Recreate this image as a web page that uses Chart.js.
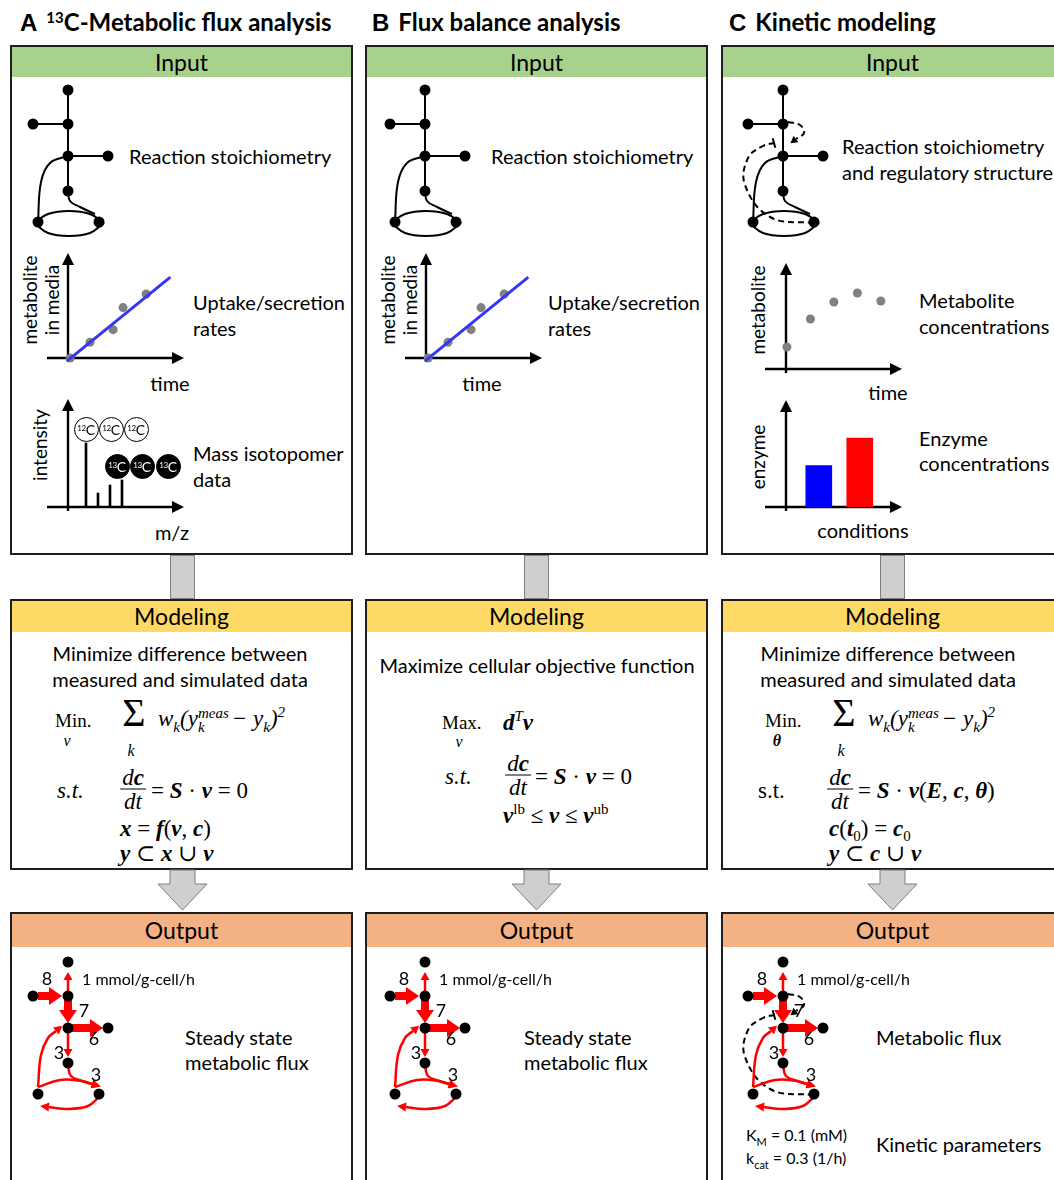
<!DOCTYPE html>
<html>
<head>
<meta charset="utf-8">
<title>Metabolic flux analysis workflows</title>
<script src="https://cdn.jsdelivr.net/npm/chart.js@4.4.1/dist/chart.umd.min.js"></script>
<style>
  html, body { margin: 0; padding: 0; background: #fff; }
  body { position: relative; width: 1054px; height: 1180px; overflow: hidden; font-family: Lato, "Open Sans", sans-serif; color: #000; }
  .box { position: absolute; width: 343px; border: 2px solid #1e1e1e; box-sizing: border-box; background: #fff; }
  .hd { text-align: center; font-size: 23px; }
  .in .hd { background: #a9d18e; height: 30px; line-height: 30px; }
  .mo .hd { background: #ffd966; height: 31px; line-height: 31px; }
  .out .hd { background: #f4b183; height: 33px; line-height: 33px; }
  .conn { position: absolute; width: 25px; background: #d0cece; border: 1px solid #7f7f7f; box-sizing: border-box; }
  .t { position: absolute; white-space: nowrap; line-height: 1; transform: translateY(-50%); font-size: 20px; }
  .tc { transform: translate(-50%, -50%); }
  .rot { transform: translate(-50%, -50%) rotate(-90deg); text-align: center; line-height: 22px; font-size: 19px; }
  .title { font-size: 24px; font-weight: bold; }
  .title .L { font-family: "Liberation Sans", Arial, sans-serif; margin-right: 9px; }
  .title sup { font-size: 15px; vertical-align: 8px; }
  canvas { position: absolute; }
  .eq { font-family: "Liberation Serif", "DejaVu Serif", serif; font-size: 23px; }
  .op { font-size: 19px; }
  .it { font-style: italic; }
  .eq b { font-style: italic; font-weight: bold; }
  .eq sub, .eq sup { font-size: 15px; line-height: 0; }
  .sm { font-size: 16px; }
  .sig { font-size: 40px; }
  .stk { display: inline-flex; flex-direction: column; font-size: 15px; line-height: 14px; vertical-align: 8px; margin-right: 3px; }
  .frac { display: inline-flex; flex-direction: column; align-items: center; }
  .frac span { padding: 0 2px; line-height: 23px; }
  .frac span:first-child { border-bottom: 1.5px solid #000; }
  .iso { position: absolute; width: 25px; height: 25px; margin: -12.5px 0 0 -12.5px; border-radius: 50%; border: 1px solid #000; box-sizing: border-box; background: #fff; font-size: 14px; line-height: 23px; text-align: center; letter-spacing: -0.4px; }
  .iso sup { font-size: 8px; vertical-align: 4px; line-height: 0; }
  .iso.c13 { background: #000; color: #fff; }
  .km { font-size: 16px; }
  .km sub { font-size: 11px; }
</style>
</head>
<body>

<!-- titles -->
<div class="t title" style="left:20px;top:22px"><span class="L">A</span><sup>13</sup>C-Metabolic flux analysis</div>
<div class="t title" style="left:372px;top:22px"><span class="L">B</span>Flux balance analysis</div>
<div class="t title" style="left:729px;top:22px"><span class="L">C</span>Kinetic modeling</div>

<!-- boxes -->
<div class="box in" style="left:10px;top:45px;height:510px"><div class="hd">Input</div></div>
<div class="box in" style="left:365px;top:45px;height:510px"><div class="hd">Input</div></div>
<div class="box in" style="left:721px;top:45px;height:510px"><div class="hd">Input</div></div>

<div class="conn" style="left:170px;top:555px;height:44px"></div>
<div class="conn" style="left:524px;top:555px;height:44px"></div>
<div class="conn" style="left:880px;top:555px;height:44px"></div>

<div class="box mo" style="left:10px;top:599px;height:271px"><div class="hd">Modeling</div></div>
<div class="box mo" style="left:365px;top:599px;height:271px"><div class="hd">Modeling</div></div>
<div class="box mo" style="left:721px;top:599px;height:271px"><div class="hd">Modeling</div></div>

<svg width="1054" height="1180" style="position:absolute;left:0;top:0">
  <g fill="#d0cece" stroke="#7f7f7f" stroke-width="1">
    <polygon points="170,870 195,870 195,884 207,884 182.5,910 158,884 170,884"/>
    <polygon points="524,870 549,870 549,884 561,884 536.5,910 512,884 524,884"/>
    <polygon points="880,870 905,870 905,884 917,884 892.5,910 868,884 880,884"/>
  </g>
</svg>

<div class="box out" style="left:10px;top:912px;height:270px"><div class="hd">Output</div></div>
<div class="box out" style="left:365px;top:912px;height:270px"><div class="hd">Output</div></div>
<div class="box out" style="left:721px;top:912px;height:270px"><div class="hd">Output</div></div>

<!-- A input text -->
<div class="t" style="left:129px;top:156px">Reaction stoichiometry</div>
<div class="t rot" style="left:41px;top:300px">metabolite<br>in media</div>
<div class="t" style="left:193px;top:302px">Uptake/secretion</div>
<div class="t" style="left:193px;top:328px">rates</div>
<div class="t tc" style="left:170px;top:383px">time</div>
<div class="t rot" style="left:40px;top:445px">intensity</div>
<div class="t" style="left:193px;top:453px">Mass isotopomer</div>
<div class="t" style="left:193px;top:479px">data</div>
<div class="t tc" style="left:172px;top:532px">m/z</div>

<!-- B input text -->
<div class="t" style="left:491px;top:156px">Reaction stoichiometry</div>
<div class="t rot" style="left:399px;top:300px">metabolite<br>in media</div>
<div class="t" style="left:548px;top:302px">Uptake/secretion</div>
<div class="t" style="left:548px;top:328px">rates</div>
<div class="t tc" style="left:482px;top:383px">time</div>

<!-- C input text -->
<div class="t" style="left:842px;top:146px">Reaction stoichiometry</div>
<div class="t" style="left:842px;top:172px">and regulatory structure</div>
<div class="t rot" style="left:758px;top:310px">metabolite</div>
<div class="t" style="left:919px;top:300px">Metabolite</div>
<div class="t" style="left:919px;top:326px">concentrations</div>
<div class="t tc" style="left:888px;top:392px">time</div>
<div class="t rot" style="left:758px;top:457px">enzyme</div>
<div class="t" style="left:919px;top:438px">Enzyme</div>
<div class="t" style="left:919px;top:463px">concentrations</div>
<div class="t tc" style="left:863px;top:530px">conditions</div>

<!-- modeling text A -->
<div class="t tc" style="left:180px;top:653px">Minimize difference between</div>
<div class="t tc" style="left:180px;top:679px">measured and simulated data</div>
<div class="t eq op" style="left:55px;top:720px">Min.</div>
<div class="t tc eq it sm" style="left:67px;top:741px">v</div>
<div class="t tc eq sig" style="left:134px;top:713px">Σ</div>
<div class="t tc eq it sm" style="left:131px;top:751px">k</div>
<div class="t eq it" style="left:158px;top:720px">w<sub>k</sub>(y<span class="stk"><span>meas</span><span>k</span></span>− y<sub>k</sub>)<sup>2</sup></div>
<div class="t eq it" style="left:57px;top:790px">s.t.</div>
<div class="t tc eq it" style="left:133px;top:789px"><span class="frac"><span>d<b>c</b></span><span>dt</span></span></div>
<div class="t eq" style="left:151px;top:790px">= <b>S</b> · <b>v</b> = 0</div>
<div class="t eq" style="left:120px;top:828px"><b>x</b> = <b>f</b>(<b>v</b>, <b>c</b>)</div>
<div class="t eq" style="left:120px;top:853px"><b>y</b> ⊂ <b>x</b> ∪ <b>v</b></div>

<!-- modeling text B -->
<div class="t tc" style="left:537px;top:665px">Maximize cellular objective function</div>
<div class="t eq op" style="left:442px;top:722px">Max.</div>
<div class="t tc eq it sm" style="left:459px;top:742px">v</div>
<div class="t eq" style="left:503px;top:722px"><b>d</b><sup class="it">T</sup><b>v</b></div>
<div class="t eq it" style="left:445px;top:776px">s.t.</div>
<div class="t tc eq it" style="left:518px;top:775px"><span class="frac"><span>d<b>c</b></span><span>dt</span></span></div>
<div class="t eq" style="left:535px;top:776px">= <b>S</b> · <b>v</b> = 0</div>
<div class="t eq" style="left:503px;top:815px"><b>v</b><sup>lb</sup> ≤ <b>v</b> ≤ <b>v</b><sup>ub</sup></div>

<!-- modeling text C -->
<div class="t tc" style="left:888px;top:653px">Minimize difference between</div>
<div class="t tc" style="left:888px;top:679px">measured and simulated data</div>
<div class="t eq op" style="left:765px;top:720px">Min.</div>
<div class="t tc eq sm" style="left:777px;top:741px"><b>θ</b></div>
<div class="t tc eq sig" style="left:844px;top:713px">Σ</div>
<div class="t tc eq it sm" style="left:841px;top:751px">k</div>
<div class="t eq it" style="left:868px;top:720px">w<sub>k</sub>(y<span class="stk"><span>meas</span><span>k</span></span>− y<sub>k</sub>)<sup>2</sup></div>
<div class="t eq" style="left:758px;top:790px">s.t.</div>
<div class="t tc eq it" style="left:840px;top:789px"><span class="frac"><span>d<b>c</b></span><span>dt</span></span></div>
<div class="t eq" style="left:858px;top:790px">= <b>S</b> · <b>v</b>(<b>E</b>, <b>c</b>, <b>θ</b>)</div>
<div class="t eq" style="left:829px;top:828px"><b>c</b>(<b>t</b><sub>0</sub>) = <b>c</b><sub>0</sub></div>
<div class="t eq" style="left:829px;top:853px"><b>y</b> ⊂ <b>c</b> ∪ <b>v</b></div>

<!-- output text -->
<div class="t" style="left:185px;top:1037px">Steady state</div>
<div class="t" style="left:185px;top:1062px">metabolic flux</div>
<div class="t" style="left:524px;top:1037px">Steady state</div>
<div class="t" style="left:524px;top:1062px">metabolic flux</div>
<div class="t" style="left:876px;top:1037px">Metabolic flux</div>
<div class="t" style="left:876px;top:1144px">Kinetic parameters</div>
<div class="t km" style="left:746px;top:1137px">K<sub>M</sub> = 0.1 (mM)</div>
<div class="t km" style="left:746px;top:1160px">k<sub>cat</sub> = 0.3 (1/h)</div>

<!-- charts -->
<canvas id="netAin" width="200" height="164" style="left:18px;top:76px"></canvas>
<canvas id="netBin" width="200" height="164" style="left:375px;top:76px"></canvas>
<canvas id="netCin" width="200" height="164" style="left:733px;top:76px"></canvas>
<canvas id="netAout" width="200" height="164" style="left:18px;top:948px"></canvas>
<canvas id="netBout" width="200" height="164" style="left:375px;top:948px"></canvas>
<canvas id="netCout" width="200" height="164" style="left:733px;top:948px"></canvas>
<canvas id="uptakeA" width="180" height="130" style="left:20px;top:240px"></canvas>
<canvas id="uptakeB" width="180" height="130" style="left:378px;top:240px"></canvas>
<canvas id="isoA" width="180" height="125" style="left:20px;top:390px"></canvas>
<canvas id="metC" width="170" height="125" style="left:740px;top:255px"></canvas>
<canvas id="enzC" width="170" height="125" style="left:740px;top:392px"></canvas>

<!-- isotopomer labels -->
<div class="iso" style="left:86px;top:429px"><sup>12</sup>C</div>
<div class="iso" style="left:111px;top:429px"><sup>12</sup>C</div>
<div class="iso" style="left:136px;top:429px"><sup>12</sup>C</div>
<div class="iso c13" style="left:117px;top:466px"><sup>13</sup>C</div>
<div class="iso c13" style="left:142px;top:466px"><sup>13</sup>C</div>
<div class="iso c13" style="left:168px;top:466px"><sup>13</sup>C</div>

<script>
// ---- data ----
// network nodes: top, left, mid, center, right, lower, bottom-left, bottom-right
const nodeX = [0, -35, 0, 0, 40, 0, -30, 31];
const nodeY = [0, 34, 34, 66, 66, 101, 132, 132];
const reactionEdges = [[0, 2], [1, 2], [2, 3], [3, 4], [3, 5]];
const curveCenterToBL = [[0, 66], [-18, 73], [-27, 92], [-30, 132]];
const curveLowerToBR = [[0, 101], [2, 111], [12, 117], [27, 124]];
const cycleTop = [[-34, 133], [-20, 124], [1, 121], [22, 124], [36, 133]];
const cycleBottom = [[36, 133], [22, 143], [1, 146], [-20, 143], [-34, 133]];
// regulation (kinetic model)
const activationArc = [[5, 32], [17, 35], [21, 43], [13, 49]];
const inhibitionArc = [[31, 133], [-13, 127], [-38, 95], [-35, 68], [-20, 56], [-9, 53]];

// output fluxes (mmol/g-cell/h): up, in, down, out, to lower, to cycle
const fluxValues = [1, 8, 7, 6, 3, 3];
const fluxUp = [[0, 30], [0, 18]];
const fluxIn = [[-30, 34], [-19, 34]];
const fluxDown = [[0, 38], [0, 48]];
const fluxOut = [[4, 66], [22, 66]];
const fluxLower = [[0, 70], [0, 87]];
const fluxLowerToBR = [[0, 104], [3, 114], [14, 119], [24, 122]];
const fluxCycleTop = [[-30, 125], [-8, 118], [14, 119], [24, 122]];
const fluxBLToCenter = [[-30, 125], [-27, 93], [-20, 76], [-12, 69]];
const fluxCycleBottom = [[31, 135], [20, 144], [-1, 147], [-19, 145]];

// uptake / secretion
const uptakeTime = [0.1, 1.0, 2.05, 2.5, 3.55];
const uptakeAmount = [0.0, 0.75, 1.35, 2.4, 3.05];
const fitTime = [-0.05, 4.65];
const fitAmount = [-0.15, 3.85];

// mass isotopomer distribution (M+0 .. M+3)
const isotopomerMz = [0, 1, 2, 3];
const isotopomerIntensity = [64, 14, 22, 27];

// kinetic model inputs
const metaboliteTime = [0, 1, 2, 3, 4];
const metaboliteConc = [2.2, 5.0, 6.7, 7.6, 6.8];
const enzymeCondition = [0.8, 1.8];
const enzymeLevel = [3, 5];
const enzymeColors = ['#0000ff', '#ff0000'];

// ---- helpers ----
function head(ctx, x, y, ang, len, w) {
  ctx.save();
  ctx.translate(x, y);
  ctx.rotate(ang);
  ctx.beginPath();
  ctx.moveTo(0, 0);
  ctx.lineTo(-len, -w / 2);
  ctx.lineTo(-len, w / 2);
  ctx.closePath();
  ctx.fill();
  ctx.restore();
}

// axes with arrow heads at the chart area edges
const arrowAxes = {
  id: 'arrowAxes',
  beforeDatasetsDraw(chart, args, o) {
    const { ctx, chartArea: a } = chart;
    ctx.save();
    ctx.lineWidth = 2.4;
    ctx.strokeStyle = '#000';
    ctx.fillStyle = '#000';
    ctx.beginPath();
    ctx.moveTo(a.left - o.extX, a.bottom);
    ctx.lineTo(a.right - 8, a.bottom);
    ctx.moveTo(a.left, a.bottom + o.extY);
    ctx.lineTo(a.left, a.top + 8);
    ctx.stroke();
    head(ctx, a.right, a.bottom, 0, 12, 12);
    head(ctx, a.left, a.top, -Math.PI / 2, 12, 12);
    ctx.restore();
  }
};

// arrow heads / inhibition bars at the end of an edge
const edgeEnds = {
  id: 'edgeEnds',
  afterDatasetDraw(chart, args) {
    const ds = chart.data.datasets[args.index];
    if (!ds.head && !ds.tee) return;
    const pts = args.meta.data, n = pts.length;
    const p = pts[n - 1], q = pts[n - 2];
    const ang = Math.atan2(p.y - q.y, p.x - q.x);
    const ctx = chart.ctx;
    ctx.save();
    ctx.fillStyle = ds.borderColor;
    ctx.strokeStyle = ds.borderColor;
    if (ds.head) {
      const [len, w] = ds.head;
      head(ctx, p.x + Math.cos(ang) * len, p.y + Math.sin(ang) * len, ang, len, w);
    }
    if (ds.tee) {
      ctx.lineWidth = 2;
      ctx.translate(p.x, p.y);
      ctx.rotate(ang);
      ctx.beginPath();
      ctx.moveTo(0, -ds.tee / 2);
      ctx.lineTo(0, ds.tee / 2);
      ctx.stroke();
    }
    ctx.restore();
  }
};

const netLabels = {
  id: 'netLabels',
  afterDraw(chart, args, o) {
    if (!o.items || !o.items.length) return;
    const { ctx, scales: { x, y } } = chart;
    ctx.save();
    ctx.fillStyle = '#000';
    ctx.textBaseline = 'middle';
    o.items.forEach(it => {
      ctx.font = it.font || o.font;
      ctx.textAlign = it.align || 'center';
      ctx.fillText(it.text, x.getPixelForValue(it.x), y.getPixelForValue(it.y));
    });
    ctx.restore();
  }
};

function edge(pts, color, width, extra) {
  return Object.assign({
    data: pts.map(p => ({ x: p[0], y: p[1] })),
    showLine: true, pointRadius: 0, borderColor: color, borderWidth: width,
    tension: pts.length > 2 ? 0.4 : 0, order: 1, clip: false
  }, extra || {});
}

function network(id, edges, labels) {
  const nodes = {
    data: nodeX.map((x, i) => ({ x, y: nodeY[i] })),
    pointRadius: 5.5, pointBackgroundColor: '#000', pointBorderWidth: 0, showLine: false, order: 0, clip: false
  };
  return new Chart(document.getElementById(id), {
    type: 'scatter',
    data: { datasets: edges.concat([nodes]) },
    options: {
      responsive: false, animation: false, events: [],
      layout: { padding: 0, autoPadding: false },
      plugins: { legend: { display: false }, tooltip: { enabled: false },
        netLabels: { items: labels || [], font: '18px Lato' } },
      scales: {
        x: { type: 'linear', min: -50, max: 150, display: false },
        y: { type: 'linear', min: -14, max: 150, reverse: true, display: false }
      }
    },
    plugins: [edgeEnds, netLabels]
  });
}

function inputEdges() {
  return reactionEdges.map(([a, b]) => edge([[nodeX[a], nodeY[a]], [nodeX[b], nodeY[b]]], '#000', 2))
    .concat([curveCenterToBL, curveLowerToBR, cycleTop, cycleBottom].map(c => edge(c, '#000', 2)));
}

function regulationEdges() {
  return [
    edge(activationArc, '#000', 2, { borderDash: [6, 4], head: [7, 8] }),
    edge(inhibitionArc, '#000', 2, { borderDash: [6, 4], tee: 10 })
  ];
}

function fluxEdges() {
  const red = '#ff0000';
  const w = v => (v >= 5 ? 8 : 2.5);
  const h = v => (v >= 5 ? [13, 18] : [8, 9]);
  return [
    edge(fluxUp, red, w(fluxValues[0]), { head: h(fluxValues[0]) }),
    edge(fluxIn, red, w(fluxValues[1]), { head: h(fluxValues[1]) }),
    edge(fluxDown, red, w(fluxValues[2]), { head: h(fluxValues[2]) }),
    edge(fluxOut, red, w(fluxValues[3]), { head: h(fluxValues[3]) }),
    edge(fluxLower, red, w(fluxValues[4]), { head: h(fluxValues[4]) }),
    edge(fluxLowerToBR, red, w(fluxValues[5]), { head: [9, 9] }),
    edge(fluxCycleTop, red, 2.5, { head: [9, 9] }),
    edge(fluxBLToCenter, red, 2.5, { head: [8, 9] }),
    edge(fluxCycleBottom, red, 2.5, { head: [9, 9] })
  ];
}

const fluxLabels = [
  { text: String(fluxValues[1]), x: -21, y: 17 },
  { text: fluxValues[0] + ' mmol/g-cell/h', x: 14, y: 18, align: 'left', font: '16px Lato' },
  { text: String(fluxValues[2]), x: 16, y: 49 },
  { text: String(fluxValues[3]), x: 26, y: 77 },
  { text: String(fluxValues[4]), x: -9, y: 91 },
  { text: String(fluxValues[5]), x: 28, y: 113 }
];

network('netAin', inputEdges());
network('netBin', inputEdges());
network('netCin', inputEdges().concat(regulationEdges()));
network('netAout', fluxEdges(), fluxLabels);
network('netBout', fluxEdges(), fluxLabels);
network('netCout', fluxEdges().concat(regulationEdges()), fluxLabels);

function mini(id, type, datasets, xr, yr, pad, ext) {
  return new Chart(document.getElementById(id), {
    type: type,
    data: { datasets: datasets },
    options: {
      responsive: false, animation: false, events: [],
      layout: { padding: pad, autoPadding: false },
      plugins: { legend: { display: false }, tooltip: { enabled: false }, arrowAxes: ext },
      scales: {
        x: { type: 'linear', min: xr[0], max: xr[1], display: false, offset: false },
        y: { type: 'linear', min: yr[0], max: yr[1], display: false }
      }
    },
    plugins: [arrowAxes]
  });
}

function uptakeSets() {
  return [
    { data: uptakeTime.map((t, i) => ({ x: t, y: uptakeAmount[i] })), pointRadius: 4.5,
      pointBackgroundColor: '#808080', pointBorderWidth: 0, showLine: false, order: 1, clip: false },
    { data: fitTime.map((t, i) => ({ x: t, y: fitAmount[i] })), showLine: true, pointRadius: 0,
      borderColor: '#3535f5', borderWidth: 3, clip: false, order: 0 }
  ];
}

const upPad = { left: 48, right: 16, top: 13, bottom: 12 };
mini('uptakeA', 'scatter', uptakeSets(), [0, 5.27], [0, 5], upPad, { extX: 21, extY: 4 });
mini('uptakeB', 'scatter', uptakeSets(), [0, 5.27], [0, 5], upPad, { extX: 21, extY: 4 });

mini('isoA', 'bar', [{
  data: isotopomerMz.map((m, i) => ({ x: m, y: isotopomerIntensity[i] })),
  backgroundColor: '#000', barThickness: 2
}], [-1.5, 8.17], [0, 108], { left: 48, right: 16, top: 9, bottom: 8 }, { extX: 21, extY: 4 });

mini('metC', 'scatter', [{
  data: metaboliteTime.map((t, i) => ({ x: t, y: metaboliteConc[i] })), pointRadius: 4.5,
  pointBackgroundColor: '#808080', pointBorderWidth: 0, showLine: false, clip: false
}], [-0.04, 4.9], [0, 10.6], { left: 46, right: 8, top: 8, bottom: 11 }, { extX: 21, extY: 4 });

mini('enzC', 'bar', [{
  data: enzymeCondition.map((c, i) => ({ x: c, y: enzymeLevel[i] })),
  backgroundColor: enzymeColors, barThickness: 26
}], [0, 2.83], [0, 7.75], { left: 46, right: 8, top: 8, bottom: 10 }, { extX: 21, extY: 4 });
</script>
</body>
</html>
